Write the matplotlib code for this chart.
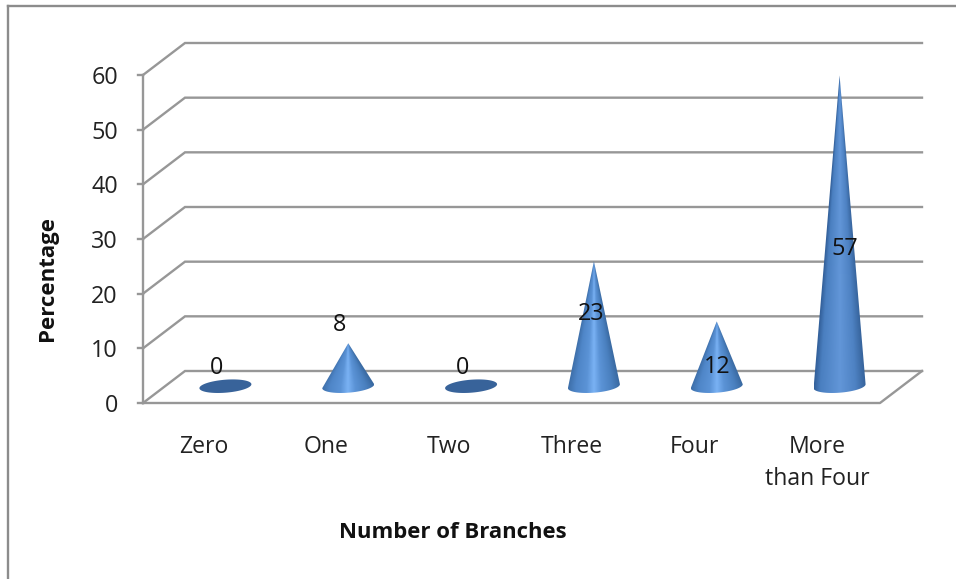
import numpy as np
from matplotlib import pyplot as plt
from matplotlib.colors import LinearSegmentedColormap
from matplotlib.patches import Polygon

plt.rc('font', family='Open Sans')

categories = ['Zero', 'One', 'Two', 'Three', 'Four', 'More\nthan Four']
percentages = [0, 8, 0, 23, 12, 57]
y_ticks = [0, 10, 20, 30, 40, 50, 60]

W, H = 956, 579
LEFT, RIGHT, BOTTOM, TOP = 143, 880, 403, 75  # plot box, pixels from top left
DEPTH_X, DEPTH_Y = 42, 32  # 3d floor depth, pixels

grid_color = '#979797'
text_color = '#222222'
cone_cmap = LinearSegmentedColormap.from_list('cone', [
    (0, '#3d6ea8'), (0.15, '#4f86c8'), (0.36, '#5b93d6'), (0.5, '#7ab2f4'),
    (0.64, '#5b93d6'), (0.85, '#4a80bf'), (1, '#3a6aa2')])
tall_cmap = LinearSegmentedColormap.from_list('cone_tall', [
    (0, '#33609a'), (0.12, '#4a7fc0'), (0.5, '#6296d8'), (0.8, '#4e82c3'), (1, '#36639b')])

fig = plt.figure(figsize=(W / 100, H / 100), dpi=100)
ax = fig.add_axes([LEFT / W, 1 - BOTTOM / H, (RIGHT - LEFT) / W, (BOTTOM - TOP) / H])
ax.set_xlim(-0.5, 5.5)
ax.set_ylim(0, 60)
ax.patch.set_visible(False)
for s in ax.spines.values():
    s.set_visible(False)

# pixel sizes converted to data units
px_x = 6 / (RIGHT - LEFT)
px_y = 60 / (BOTTOM - TOP)
dx, dy = DEPTH_X * px_x, DEPTH_Y * px_y

# walls and floor
lw = 1.7
for v in y_ticks:
    ax.plot([-0.5, -0.5 + dx, 5.5 + dx], [v, v + dy, v + dy], color=grid_color, lw=lw,
            clip_on=False, solid_joinstyle='miter')
ax.plot([-0.5, -0.5], [0, 60], color=grid_color, lw=lw, clip_on=False)
ax.plot([-0.5, 5.5, 5.5 + dx], [0, 0, dy], color=grid_color, lw=lw, clip_on=False)
ax.set_xticks([])
ax.set_yticks([])
for v in y_ticks:
    ax.plot([-0.5 - 5 * px_x, -0.5], [v, v], color=grid_color, lw=lw, clip_on=False)
    ax.text(-0.5 - 25 * px_x, v - 3 * px_y, str(v), ha='right', va='center', fontsize=16.8,
            color=text_color)

# cones, shaded across their width at every height
half_w = 26 * px_x
half_h = 6.5 * px_y
tilt = 0.075 * px_y / px_x
for i, p in enumerate(percentages):
    cx = i + dx / 2
    cy = dy / 2 + 0.8 * px_y
    if p == 0:
        t = np.linspace(0, 2 * np.pi, 80)
        ex = half_w * np.cos(t)
        ey = half_h * np.sin(t) + tilt * ex
        ax.add_patch(Polygon(np.c_[cx + ex, cy + ey], closed=True, fc='#38639a', ec='none',
                             zorder=3, clip_on=False))
        continue
    low = np.linspace(np.pi, 2 * np.pi, 40)
    bx = half_w * np.cos(low)
    by = half_h * np.sin(low) + tilt * bx
    verts = np.r_[[[cx, dy / 2 + p]], np.c_[cx + bx, cy + by]]
    cone = Polygon(verts, closed=True, fc='none', ec='none', zorder=3, clip_on=False)
    ax.add_patch(cone)

    y0, y1 = cy - 2 * half_h, dy / 2 + p
    xs = np.linspace(-half_w, half_w, 200)
    ys = np.linspace(y1, y0, 400)
    xx, yy = np.meshgrid(xs, ys)
    width_here = np.maximum(half_w * (1 - (yy - cy) / p), 1e-4)
    width_here = np.minimum(width_here, half_w)
    u = np.clip(xx / width_here * 0.5 + 0.5, 0, 1)
    im = ax.imshow(u, cmap=tall_cmap if p > 40 else cone_cmap, aspect='auto', zorder=3,
                   extent=[cx - half_w, cx + half_w, y0, y1], vmin=0, vmax=1)
    im.set_clip_path(cone)
ax.set_xlim(-0.5, 5.5)
ax.set_ylim(0, 60)

# value labels sit at hand-set spots around the cones
label_y = [6.4, 14.3, 6.4, 16.3, 6.6, 28.2]
label_dx = [-9, -9, -9, -3, 0, 5]
for i, p in enumerate(percentages):
    ax.text(i + dx / 2 + label_dx[i] * px_x, label_y[i], str(p), ha='center', va='center',
            fontsize=16.8, color='#111111', zorder=5)

# category labels
for i, c in enumerate(categories):
    ax.text(i - 1 * px_x, -32 * px_y, c, ha='center', va='top', fontsize=16.6, color=text_color,
            linespacing=1.45, clip_on=False)

fig.text(453 / W, 1 - 533 / H, 'Number of Branches', ha='center', va='center', fontsize=15.9,
         fontweight='bold', color='#111111')
fig.text(47 / W, 1 - 278 / H, 'Percentage', ha='center', va='center', rotation=90, fontsize=16,
         fontweight='bold', color='#111111')

# outer frame of the chart area
fig.add_artist(plt.Line2D([7.5 / W, 7.5 / W], [0, 1 - 6 / H], color='#8c8c8c', lw=1.7))
fig.add_artist(plt.Line2D([7.5 / W, 1], [1 - 6 / H, 1 - 6 / H], color='#8c8c8c', lw=1.7))

fig.savefig('out.png', dpi=100)
